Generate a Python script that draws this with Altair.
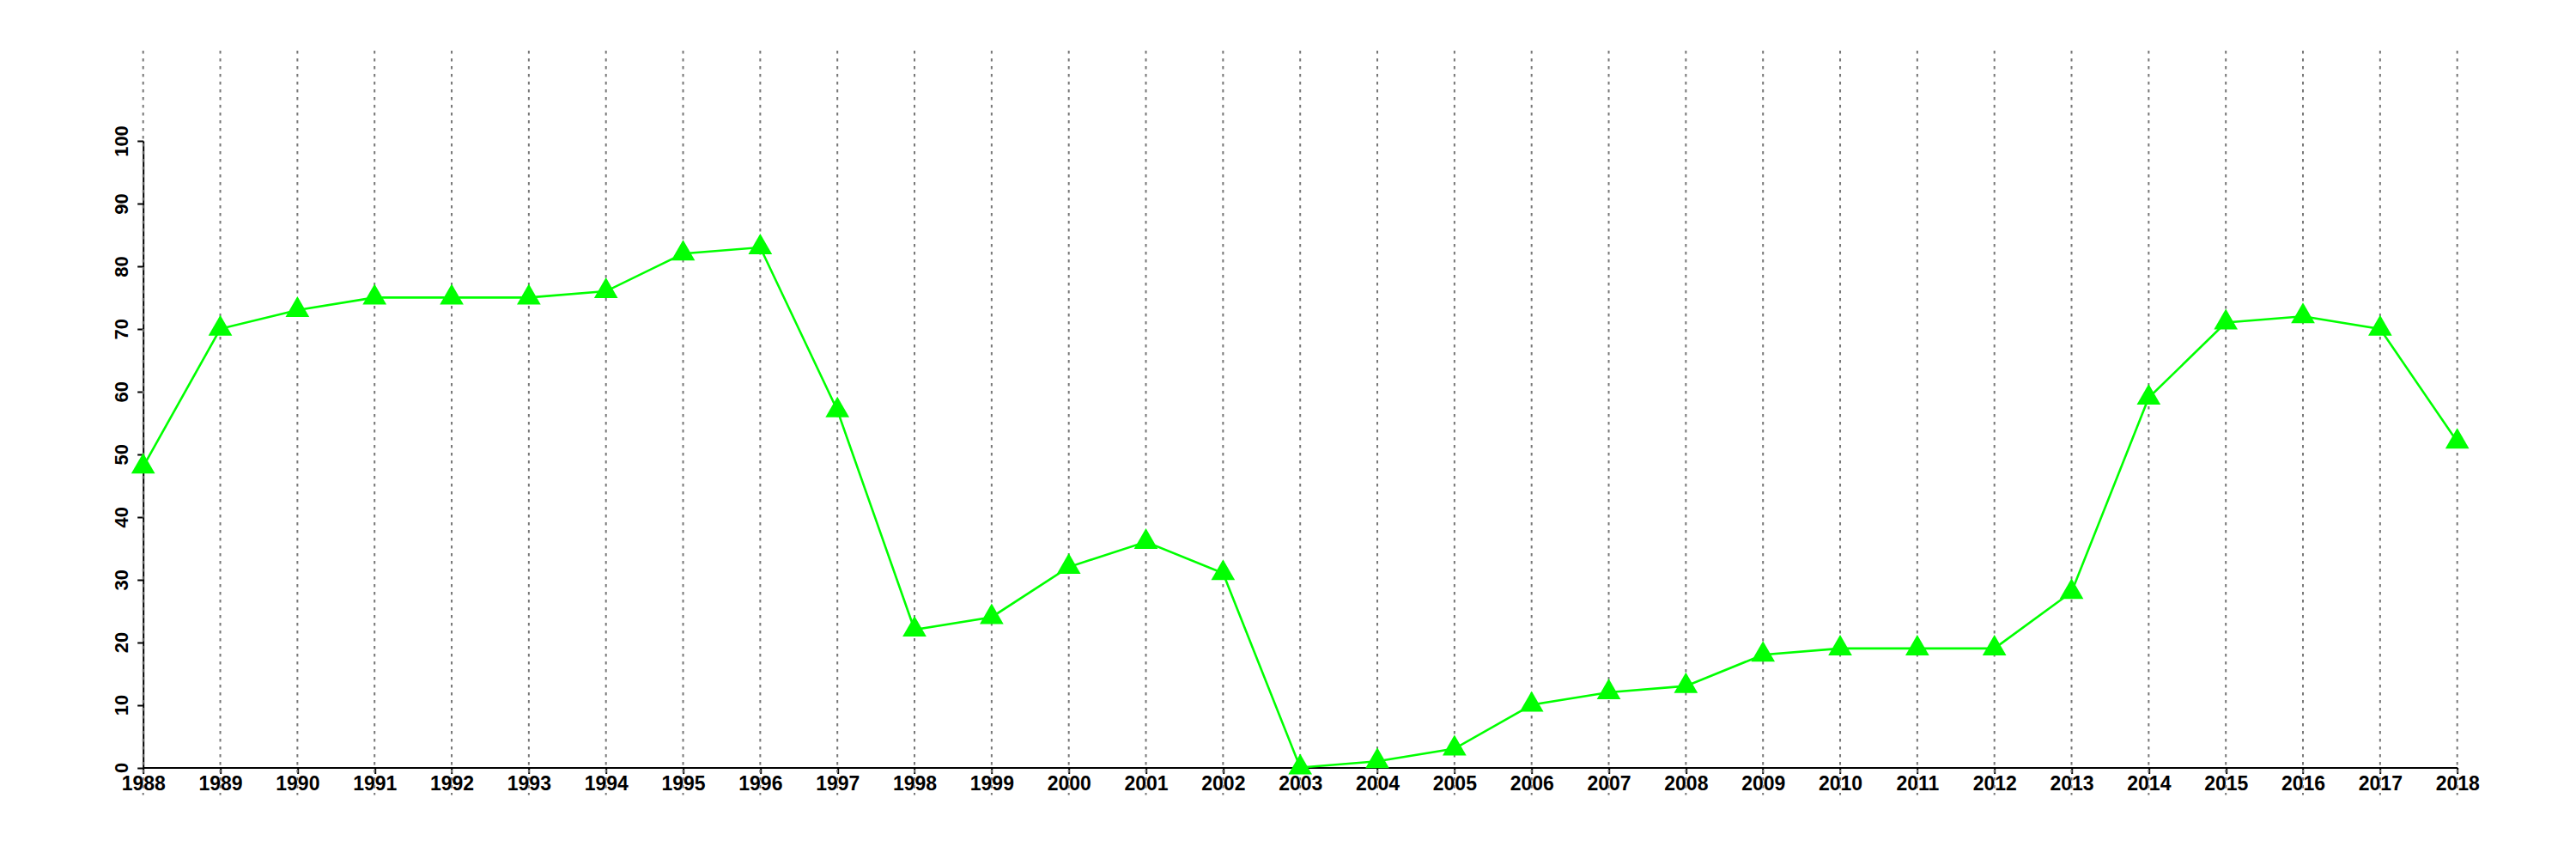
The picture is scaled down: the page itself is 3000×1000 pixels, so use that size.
import altair as alt
import pandas as pd

years = list(range(1988, 2019))
values = [48, 70, 73, 75, 75, 75, 76, 82, 83, 57, 22, 24, 32, 36, 31,
          0, 1, 3, 10, 12, 13, 18, 19, 19, 19, 28, 59, 71, 72, 70, 52]
y_ticks = list(range(0, 101, 10))
grid_top = 114.4
grid_bottom = -4.4

df = pd.DataFrame({"year": years, "value": values})

x_scale = alt.Scale(domain=[1988, 2018], nice=False, zero=False)
y_scale = alt.Scale(domain=[0, 100], nice=False)

x_axis = alt.Axis(values=years, format="d", title=None, labelFontSize=23,
                  labelPadding=19.5, labelBaseline="alphabetic",
                  labelAlign="center", labelFlush=False, labelOverlap=False)
y_axis = alt.Axis(values=y_ticks, format="d", title=None, labelFontSize=22,
                  labelAngle=270, labelAlign="center", labelBaseline="alphabetic",
                  labelPadding=11.5, labelFlush=False, labelOverlap=False)

grid = alt.Chart(df).mark_rule(color="#777777", strokeWidth=2, strokeDash=[3.5, 5.5]).encode(
    x=alt.X("year:Q", scale=x_scale, axis=x_axis),
    y=alt.Y(datum=grid_top, scale=y_scale, axis=y_axis),
    y2=alt.Y2(datum=grid_bottom),
)

line = alt.Chart(df).mark_line(color="#00ff00", strokeWidth=2.6).encode(
    x=alt.X("year:Q", scale=x_scale, axis=x_axis),
    y=alt.Y("value:Q", scale=y_scale, axis=y_axis),
)

tri = "M0,-1.155L1,0.578L-1,0.578Z"
points = alt.Chart(df).mark_point(shape=tri, filled=True, size=767, color="#00ff00",
                                  opacity=1, strokeWidth=0).encode(
    x=alt.X("year:Q", scale=x_scale, axis=x_axis),
    y=alt.Y("value:Q", scale=y_scale, axis=y_axis),
)

chart = alt.layer(grid, line, points).properties(
    width=2695, height=729.5,
    autosize=alt.AutoSizeParams(type="none"),
    padding={"left": 158.7, "top": 156, "right": 130, "bottom": 90},
    background="white",
).configure_view(stroke=None).configure_axis(
    domainColor="black", domainWidth=2, tickColor="black", tickWidth=2, tickSize=7,
    labelFont="Liberation Sans", labelFontWeight="bold", labelColor="black", grid=False,
)

chart.save("out.html", embed_options={"renderer": "svg", "actions": False})
